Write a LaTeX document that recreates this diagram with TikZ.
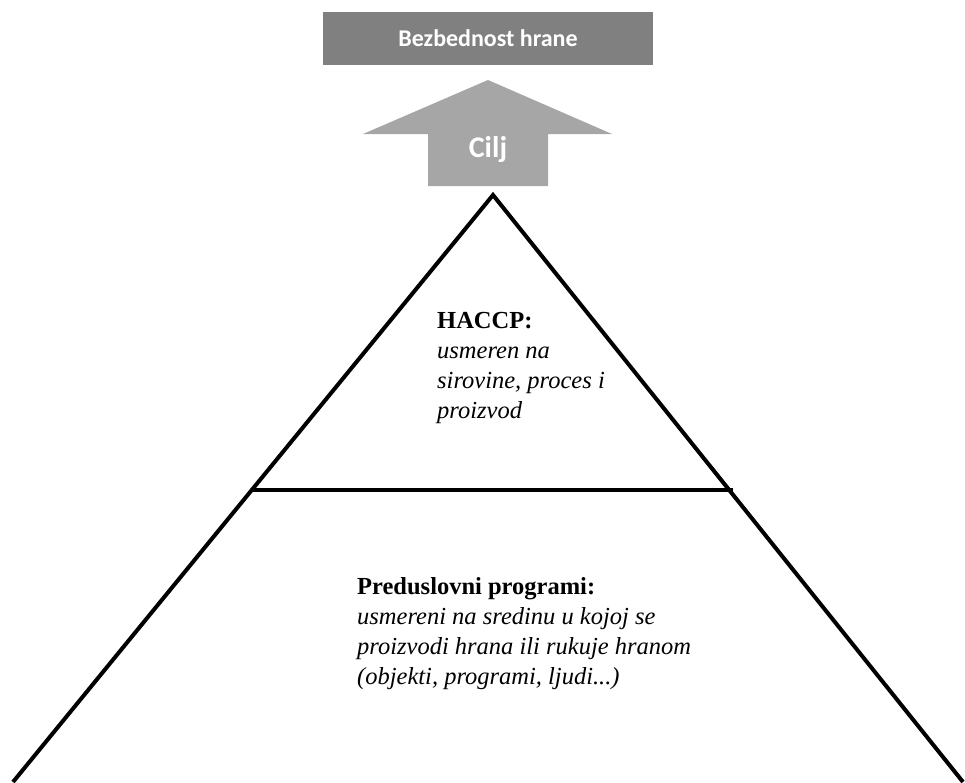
\documentclass[tikz,border=0pt]{standalone}
\usepackage{fontspec}
\setmainfont{Liberation Serif}
\newfontfamily\boxfont{Carlito}
\usepackage{tikz}
\usetikzlibrary{positioning}
\definecolor{goalgray}{RGB}{128,128,128}
\definecolor{arrowgray}{RGB}{166,166,166}

\begin{document}
\begin{tikzpicture}[x=1pt, y=-1pt,
    goal/.style={rectangle, fill=goalgray, text=white, font=\boxfont\bfseries\fontsize{24}{28}\selectfont, minimum width=330pt, minimum height=53pt},
    tag/.style={text=white, font=\boxfont\bfseries\fontsize{30}{32}\selectfont},
    level/.style={anchor=north west, inner sep=0pt, align=left, font=\fontsize{24.5}{30}\selectfont},
    edge/.style={line width=4pt, line join=miter}
]
    \useasboundingbox (0,0) rectangle (965,782);

    % Goal
    \node[goal] (goal) at (488,38.5) {Bezbednost hrane};

    % Block arrow
    \fill[arrowgray] (428,186) -- (428,134) -- (363,134) -- (488,80) -- (612,134) -- (548,134) -- (548,186) -- cycle;
    \node[tag] (cilj) at (488,150) {Cilj};

    % Pyramid
    \coordinate (apex) at (493,195);
    \coordinate (bl) at (13,782);
    \coordinate (br) at (963,782);
    \coordinate (ml) at (252,490);
    \coordinate (mr) at (733,490);
    \draw[edge] (bl) -- (apex) -- (br);
    \draw[edge] (ml) -- (mr);

    % Levels
    \node[level] (haccp) at (437,312)
        {\textbf{HACCP:}\\ \textit{usmeren na}\\ \textit{sirovine, proces i}\\ \textit{proizvod}};
    \node[level] (prp) at (357,577)
        {\textbf{Preduslovni programi:}\\ \textit{usmereni na sredinu u kojoj se}\\ \textit{proizvodi hrana ili rukuje hranom}\\ \textit{(objekti, programi, ljudi...)}};
\end{tikzpicture}
\end{document}
